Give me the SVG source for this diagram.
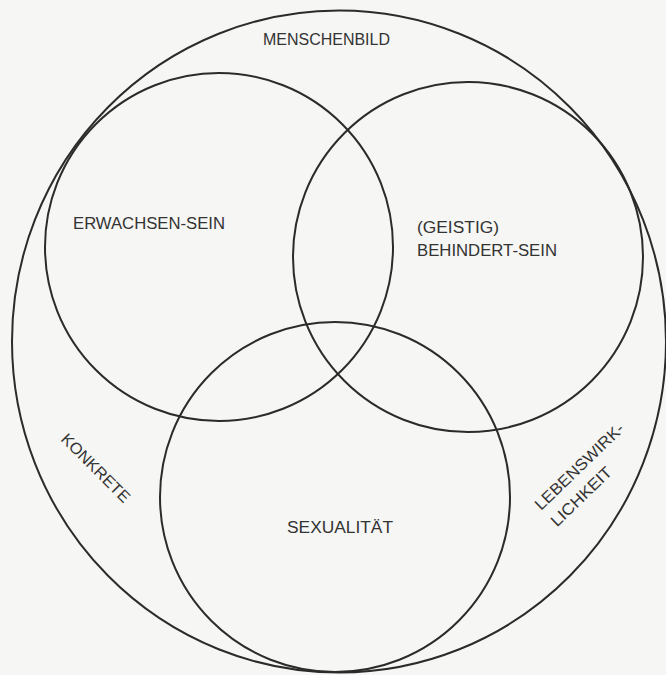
<svg xmlns="http://www.w3.org/2000/svg" width="666" height="675" viewBox="0 0 666 675">
  <style>
    .ring { fill: none; stroke: #2b2b2b; stroke-width: 2; }
    .lbl { font-family: "Liberation Sans", "DejaVu Sans", Arial, sans-serif; font-size: 16px; fill: #333333; letter-spacing: 0; }
  </style>
  <rect x="0" y="0" width="666" height="675" fill="#f6f6f4"/>
  <g id="connectors"/>
  <g id="menschenbild">
    <ellipse class="ring" cx="339" cy="341.5" rx="327" ry="331"/>
    <text class="lbl" x="263" y="45" textLength="127" lengthAdjust="spacingAndGlyphs">MENSCHENBILD</text>
    <text class="lbl" transform="translate(60,440) rotate(45)" x="0" y="0" textLength="90" lengthAdjust="spacingAndGlyphs">KONKRETE</text>
    <g transform="translate(541,511) rotate(-44)">
      <text class="lbl" x="0" y="0" textLength="117" lengthAdjust="spacingAndGlyphs">LEBENSWIRK-</text>
      <text class="lbl" x="0" y="23" textLength="78" lengthAdjust="spacingAndGlyphs">LICHKEIT</text>
    </g>
  </g>
  <g id="erwachsen-sein">
    <circle class="ring" cx="219" cy="247" r="174"/>
    <text class="lbl" x="73" y="229" textLength="152" lengthAdjust="spacingAndGlyphs">ERWACHSEN-SEIN</text>
  </g>
  <g id="behindert-sein">
    <circle class="ring" cx="468" cy="257" r="175"/>
    <text class="lbl" x="417" y="233" textLength="82" lengthAdjust="spacingAndGlyphs">(GEISTIG)</text>
    <text class="lbl" x="417" y="256" textLength="140" lengthAdjust="spacingAndGlyphs">BEHINDERT-SEIN</text>
  </g>
  <g id="sexualitaet">
    <circle class="ring" cx="335" cy="497" r="175"/>
    <text class="lbl" x="287" y="533" textLength="106" lengthAdjust="spacingAndGlyphs">SEXUALITÄT</text>
  </g>
</svg>
